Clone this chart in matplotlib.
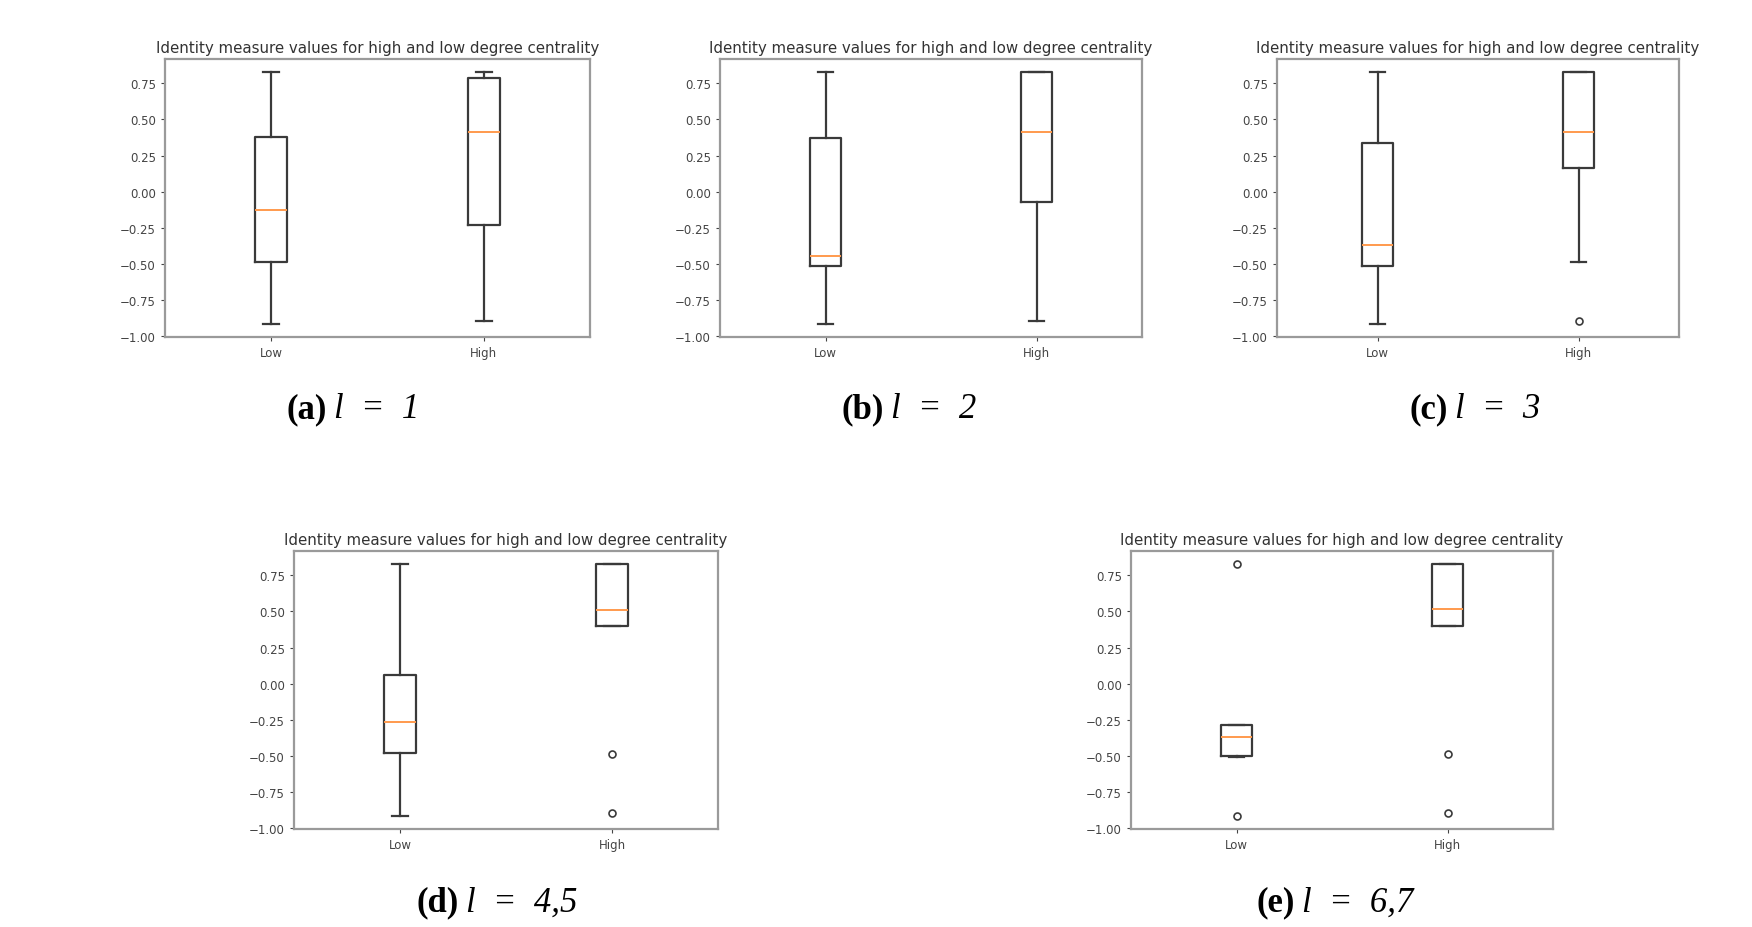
import matplotlib
matplotlib.use("Agg")
import matplotlib.pyplot as plt

W, H = 1752, 928

categories = ["Low", "High"]
title = "Identity measure values for high and low degree centrality"
captions = ["(a)", "(b)", "(c)", "(d)", "(e)"]
caption_eq = ["l\u2002=\u20021", "l\u2002=\u20022", "l\u2002=\u20023",
              "l\u2002=\u20024,5", "l\u2002=\u20026,7"]
yticks = [-1.00, -0.75, -0.50, -0.25, 0.00, 0.25, 0.50, 0.75]

# box statistics per panel: [Low, High]
q1 = [[-0.49, -0.23], [-0.52, -0.07], [-0.52, 0.16], [-0.48, 0.40], [-0.50, 0.40]]
med = [[-0.13, 0.41], [-0.45, 0.41], [-0.37, 0.41], [-0.27, 0.51], [-0.37, 0.52]]
q3 = [[0.38, 0.79], [0.37, 0.83], [0.34, 0.83], [0.06, 0.83], [-0.29, 0.83]]
whislo = [[-0.92, -0.90], [-0.92, -0.90], [-0.92, -0.49], [-0.92, 0.40], [-0.51, 0.40]]
whishi = [[0.83, 0.83], [0.83, 0.83], [0.83, 0.83], [0.83, 0.83], [-0.29, 0.83]]
fliers = [[[], []], [[], []], [[], [-0.90]], [[], [-0.49, -0.90]], [[0.83, -0.92], [-0.49, -0.90]]]

# axes rectangles in pixels: left, top, right, bottom
rects = [(165, 60, 590, 338), (720, 60, 1142, 338), (1277, 60, 1679, 338),
         (294, 552, 718, 830), (1131, 552, 1553, 830)]
cap_pos = [(327, 410), (884, 410), (1448, 410), (459, 903), (1295, 903)]

fig = plt.figure(figsize=(W / 100, H / 100), dpi=100)
fig.patch.set_facecolor("white")

line_c = "#3a3a3a"
for i, (l, t, r, b) in enumerate(rects):
    ax = fig.add_axes([l / W, 1 - b / H, (r - l) / W, (b - t) / H])
    stats = []
    for j, cat in enumerate(categories):
        stats.append(dict(label=cat, med=med[i][j], q1=q1[i][j], q3=q3[i][j],
                          whislo=whislo[i][j], whishi=whishi[i][j], fliers=fliers[i][j]))
    ax.bxp(stats, positions=[1, 2], widths=0.15,
           boxprops=dict(color=line_c, linewidth=1.6),
           whiskerprops=dict(color=line_c, linewidth=1.6),
           capprops=dict(color=line_c, linewidth=1.6),
           medianprops=dict(color="#ff9a4d", linewidth=1.4),
           flierprops=dict(marker="o", markerfacecolor="none", markeredgecolor=line_c,
                           markersize=5, markeredgewidth=1.2))
    ax.set_xlim(0.5, 2.5)
    ax.set_ylim(-1.01, 0.92)
    ax.set_yticks(yticks)
    ax.set_yticklabels([f"{v:.2f}".replace("-", "\u2212") for v in yticks])
    ax.tick_params(labelsize=8.5, colors="#444444", length=3)
    ax.set_title(title, fontsize=10.8, color="#333333", pad=5)
    for s in ax.spines.values():
        s.set_color("#9a9a9a")
        s.set_linewidth(1.6)

    cx, cy = cap_pos[i]
    fig.text(cx / W, 1 - cy / H, captions[i], ha="right", va="center",
             fontsize=25, family="Liberation Serif", weight="bold")
    fig.text((cx + 7) / W, 1 - cy / H, caption_eq[i], ha="left", va="center",
             fontsize=25, family="Liberation Serif", style="italic")

fig.savefig("out.png", dpi=100)
